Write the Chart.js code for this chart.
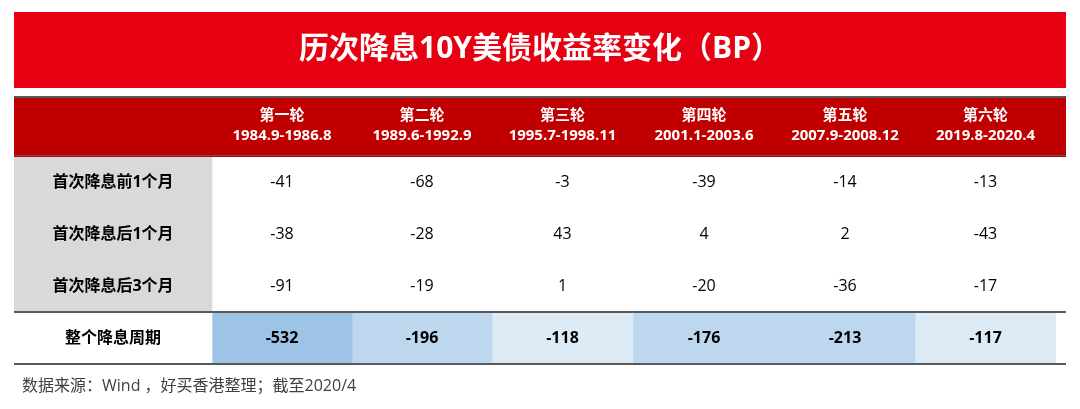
<!DOCTYPE html>
<html><head><meta charset="utf-8">
<script src="https://cdn.jsdelivr.net/npm/chart.js@4"></script>
<style>body{margin:0;background:#fff}#c{display:block}</style>
</head><body>
<div style="width:1080px;height:409px"><canvas id="c"></canvas></div>
<script>
const title = '历次降息10Y美债收益率变化（BP）';
const rounds = ['第一轮', '第二轮', '第三轮', '第四轮', '第五轮', '第六轮'];
const periods = ['1984.9-1986.8', '1989.6-1992.9', '1995.7-1998.11', '2001.1-2003.6', '2007.9-2008.12', '2019.8-2020.4'];
const rowLabels = ['首次降息前1个月', '首次降息后1个月', '首次降息后3个月', '整个降息周期'];
const before1m = [-41, -68, -3, -39, -14, -13];
const after1m = [-38, -28, 43, 4, 2, -43];
const after3m = [-91, -19, 1, -20, -36, -17];
const wholeCycle = [-532, -196, -118, -176, -213, -117];
const source = '数据来源：Wind ，好买香港整理；截至2020/4';

// layout (pixel offsets from left edge of table)
const colEdges = [0, 198, 338, 478, 619, 761, 901, 1042];
const font = '"Open Sans", "Noto Sans CJK SC", sans-serif';
const rowsData = [before1m, after1m, after3m, wholeCycle];
const blue = v => v <= -500 ? '#9dc3e6' : v <= -150 ? '#bdd7ee' : '#ddebf7';

const datasets = [];
datasets.push({
  data: rowLabels.map(() => [colEdges[0], colEdges[1]]),
  backgroundColor: rowLabels.map((_, r) => r < 3 ? '#d9d9d9' : '#ffffff'),
  texts: rowLabels, bold: rowLabels.map(() => true)
});
rounds.forEach((_, c) => {
  datasets.push({
    data: rowLabels.map(() => [colEdges[c + 1], colEdges[c + 2]]),
    backgroundColor: rowsData.map((row, r) => r < 3 ? '#ffffff' : blue(row[c])),
    texts: rowsData.map(row => String(row[c])),
    bold: rowsData.map((_, r) => r === 3)
  });
});

const decor = {
  id: 'decor',
  afterDatasetsDraw(chart) {
    const ctx = chart.ctx;
    const {left, right, top} = chart.chartArea;
    const y = chart.scales.y;
    ctx.save();
    // title bar
    ctx.fillStyle = '#e60012';
    ctx.fillRect(left, 12, right - left + 10, 76);
    ctx.fillStyle = '#fff';
    ctx.font = 'bold 30px ' + font;
    ctx.textAlign = 'center';
    ctx.textBaseline = 'middle';
    ctx.fillText(title, (left + right) / 2 + 5, 49);
    // header
    ctx.fillStyle = '#c00000';
    ctx.fillRect(left, 97, right - left + 10, top - 97);
    ctx.fillStyle = '#595959';
    ctx.fillRect(left, 96, right - left + 10, 2);
    ctx.fillStyle = '#fff';
    ctx.font = 'bold 15px ' + font;
    rounds.forEach((r, c) => {
      const bar = chart.getDatasetMeta(c + 1).data[0];
      const cx = (bar.base + bar.x) / 2;
      ctx.fillText(r, cx, 116);
      ctx.fillText(periods[c], cx, 136);
    });
    // cell texts
    chart.data.datasets.forEach((ds, i) => {
      chart.getDatasetMeta(i).data.forEach((bar, j) => {
        ctx.fillStyle = '#000';
        ctx.font = (ds.bold[j] ? 'bold ' : '') + '16px ' + font;
        ctx.fillText(ds.texts[j], (bar.base + bar.x) / 2, bar.y);
      });
    });
    // separators
    ctx.fillStyle = '#595959';
    [2.5, 3.5].forEach(v => {
      ctx.fillRect(left, Math.round(y.getPixelForValue(v)) - 1, right - left + 10, 2);
    });
    ctx.fillRect(left, top - 2, right - left + 10, 1);
    // source
    ctx.fillStyle = '#404040';
    ctx.font = '16px ' + font;
    ctx.textAlign = 'left';
    ctx.fillText(source, 22, 386);
    ctx.restore();
  }
};

new Chart(document.getElementById('c'), {
  type: 'bar',
  data: {labels: rowLabels, datasets},
  options: {
    indexAxis: 'y',
    responsive: true,
    maintainAspectRatio: false,
    animation: false,
    layout: {padding: {left: 14, right: 24, top: 157, bottom: 45}},
    datasets: {bar: {grouped: false, categoryPercentage: 1, barPercentage: 1, borderWidth: 0}},
    scales: {
      x: {type: 'linear', min: 0, max: 1042, display: false},
      y: {display: false}
    },
    plugins: {legend: {display: false}, tooltip: {enabled: false}}
  },
  plugins: [decor]
});
</script>
</body></html>
